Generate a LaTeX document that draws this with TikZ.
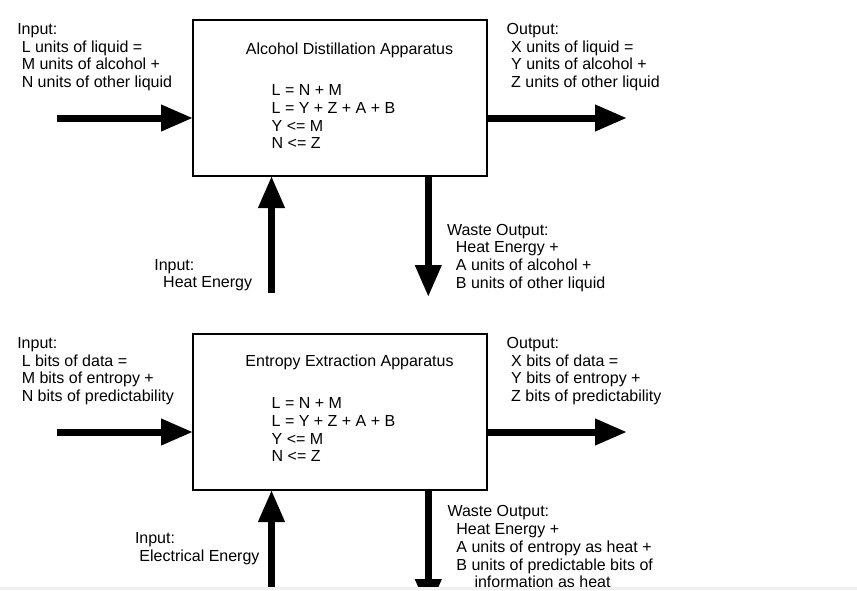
\documentclass[tikz,border=0pt]{standalone}
\usepackage{fontspec}
\setmainfont{Liberation Sans}
\usetikzlibrary{arrows.meta}
\newcommand{\lsp}{\hspace*{4.45pt}}
\begin{document}
\begin{tikzpicture}[x=1pt,y=-1pt,
  every node/.style={font=\fontsize{16}{17.8}\selectfont, inner sep=0pt, outer sep=0pt},
  txt/.style={align=left, anchor=base west},
  apparatus/.style={draw, line width=1.5pt, minimum width=294pt, minimum height=156pt},
  flow/.style={line width=7pt, -{Triangle[length=32pt,width=25pt]}}
]
\useasboundingbox (0,0) rectangle (857,590);
\begin{scope}
\clip (0,0) rectangle (857,587);
% ---------- top: alcohol ----------
\node[apparatus] (box1) at (340,98) {};
\node[anchor=base] (title1) at (349.5,54) {Alcohol Distillation Apparatus};
\node[txt] (eq1) at (271.7,148.9) {L = N + M\\L = Y + Z + A + B\\Y <= M\\N <= Z};
\node[txt] (in1t) at (17.3,87.7) {Input:\\\lsp L units of liquid =\\\lsp M units of alcohol +\\\lsp N units of other liquid};
\node[txt] (out1t) at (506.7,87.7) {Output:\\\lsp X units of liquid =\\\lsp Y units of alcohol +\\\lsp Z units of other liquid};
\node[txt] (heat1t) at (154.3,287.8) {Input:\\\lsp\lsp Heat Energy};
\node[txt] (waste1t) at (447,288.4) {Waste Output:\\\lsp\lsp Heat Energy +\\\lsp\lsp A units of alcohol +\\\lsp\lsp B units of other liquid};
\coordinate (in1s) at (57,118);
\coordinate (out1e) at (627,118);
\coordinate (heat1s) at (271.5,293);
\coordinate (waste1e) at (428.3,297);
\draw[flow] (in1s) -- (in1s -| box1.west);
\draw[flow] (out1e -| box1.east) -- (out1e);
\draw[flow] (heat1s) -- (heat1s |- box1.south);
\draw[flow] (waste1e |- box1.south) -- (waste1e);
% ---------- bottom: entropy ----------
\node[apparatus] (box2) at (340,412) {};
\node[anchor=base] (title2) at (349.5,366.5) {Entropy Extraction Apparatus};
\node[txt] (eq2) at (271.7,461.9) {L = N + M\\L = Y + Z + A + B\\Y <= M\\N <= Z};
\node[txt] (in2t) at (17.3,401.7) {Input:\\\lsp L bits of data =\\\lsp M bits of entropy +\\\lsp N bits of predictability};
\node[txt] (out2t) at (506.7,401.7) {Output:\\\lsp X bits of data =\\\lsp Y bits of entropy +\\\lsp Z bits of predictability};
\node[txt] (elec2t) at (135,561.1) {Input:\\\lsp Electrical Energy};
\node[txt] (waste2t) at (447.5,587.9) {Waste Output:\\\lsp\lsp Heat Energy +\\\lsp\lsp A units of entropy as heat +\\\lsp\lsp B units of predictable bits of\\\hspace*{27pt}information as heat};
\coordinate (in2s) at (57,432);
\coordinate (out2e) at (627,432);
\coordinate (elec2s) at (271.5,600);
\coordinate (waste2e) at (428.3,611);
\draw[flow] (in2s) -- (in2s -| box2.west);
\draw[flow] (out2e -| box2.east) -- (out2e);
\draw[flow] (elec2s) -- (elec2s |- box2.south);
\draw[flow] (waste2e |- box2.south) -- (waste2e);
\end{scope}
\fill[gray!12] (0,587) rectangle (857,590);
\end{tikzpicture}
\end{document}
